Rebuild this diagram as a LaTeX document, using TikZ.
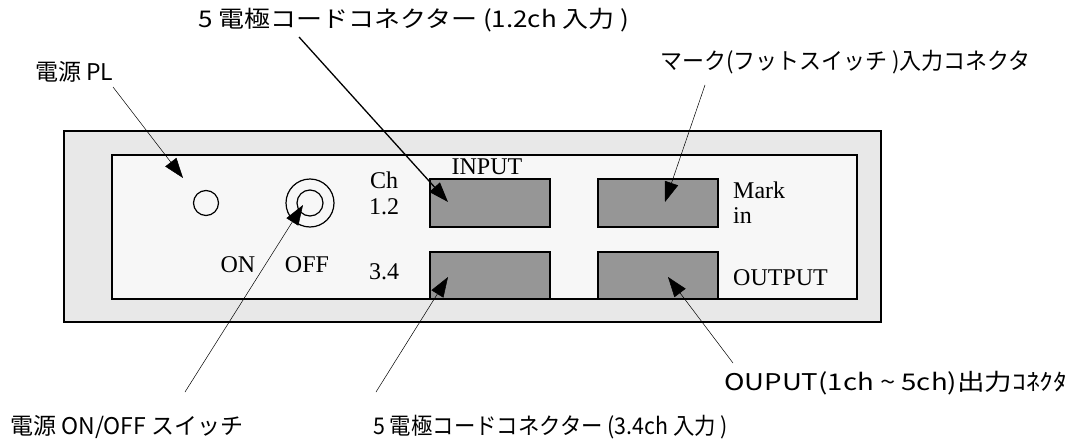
\documentclass[tikz,border=0pt]{standalone}
\usepackage{fontspec}
\setmainfont{Liberation Serif}
\newfontfamily\jp{Noto Sans CJK JP}
\usetikzlibrary{arrows.meta}
\definecolor{outerfill}{HTML}{E8E8E8}
\definecolor{innerfill}{HTML}{F7F7F7}
\definecolor{connfill}{HTML}{969696}
\begin{document}
\begin{tikzpicture}[x=1pt,y=-1pt,
  lbl/.style={font=\jp\fontsize{23}{26}\selectfont, inner sep=0pt, anchor=west},
  ser/.style={font=\fontsize{24}{26}\selectfont, inner sep=0pt},
  panel/.style={draw=black, line width=1.4pt},
  connbox/.style={draw=black, fill=connfill, line width=1.3pt},
  ring/.style={circle, draw=black, line width=1.2pt, inner sep=0pt},
  ptr/.style={-{Triangle[length=20pt,width=14pt]}, line width=0.5pt},
  ptrthick/.style={-{Triangle[length=20pt,width=14pt]}, line width=1.3pt}]
\useasboundingbox (0,0) rectangle (1082,447);
% panel
\draw[panel, fill=outerfill] (64,131) rectangle (881,322);
\draw[panel, fill=innerfill] (112,155) rectangle (857,299);
% connectors
\node[connbox, minimum width=120pt, minimum height=48pt, inner sep=0pt] (in12) at (490,203) {};
\node[connbox, minimum width=120pt, minimum height=47pt, inner sep=0pt] (in34) at (490,275.5) {};
\node[connbox, minimum width=120pt, minimum height=48pt, inner sep=0pt] (mark) at (658,203) {};
\node[connbox, minimum width=120pt, minimum height=47pt, inner sep=0pt] (out) at (658,275.5) {};
% LED and switch
\node[ring, minimum size=25pt] (led) at (206,203) {};
\node[ring, minimum size=48pt] (swo) at (310,203) {};
\node[ring, minimum size=26pt] (swi) at (310,203) {};
% panel texts
\node[ser] (ch) at (384,180) {Ch};
\node[ser] (c12) at (384,207) {1.2};
\node[ser] (c34) at (384,272) {3.4};
\node[ser] (on) at (238,265) {ON};
\node[ser] (off) at (307,265) {OFF};
\node[ser] (input) at (487,167) {INPUT};
\node[ser, anchor=west] (markt) at (733,190) {Mark};
\node[ser, anchor=west] (int) at (733,216) {in};
\node[ser, anchor=west] (outt) at (733,278) {OUTPUT};
% labels
\node[lbl] (lpl) at (35,72) {電源 PL};
\node[lbl] (lin12) at (198,20) {\scalebox{1.13}[1]{5 電極コードコネクター (1.2ch 入力 )}};
\node[lbl] (lmark) at (660,62) {\scalebox{0.955}[1]{マーク(フットスイッチ )入力コネクタ}};
\node[lbl] (lsw) at (10,427) {電源 ON/OFF スイッチ};
\node[lbl] (lin34) at (373,427) {\scalebox{0.93}[1]{5 電極コードコネクター (3.4ch 入力 )}};
\node[lbl] (lout) at (724,383) {\scalebox{1.2}[1]{OUPUT(1ch \textasciitilde{} 5ch)出力ｺﾈｸﾀ}};
% connector points
\coordinate (plA) at (113,87);   \coordinate (plB) at (183,178);
\coordinate (i12A) at (299,37);  \coordinate (i12B) at (448,202);
\coordinate (mkA) at (705,85);   \coordinate (mkB) at (665,202);
\coordinate (swA) at (185,392);  \coordinate (swB) at (303,205);
\coordinate (i34A) at (376,392); \coordinate (i34B) at (448,277);
\coordinate (otA) at (733,363);  \coordinate (otB) at (668,277);
\draw[ptr] (plA) -- (plB);
\draw[ptrthick] (i12A) -- (i12B);
\draw[ptr] (mkA) -- (mkB);
\draw[ptr] (swA) -- (swB);
\draw[ptr] (i34A) -- (i34B);
\draw[ptr] (otA) -- (otB);
\end{tikzpicture}
\end{document}
